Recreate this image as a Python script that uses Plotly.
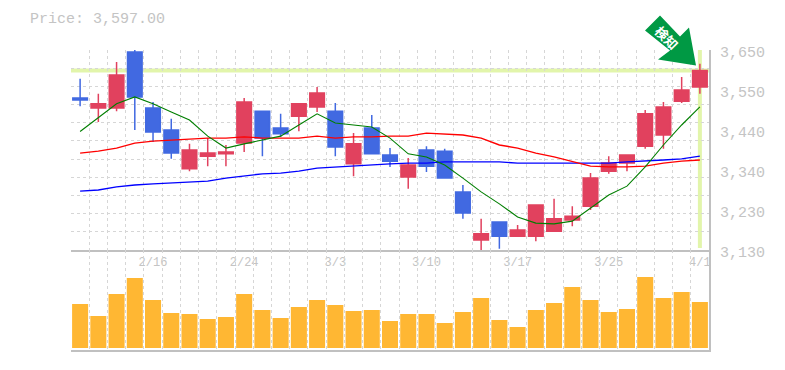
import plotly.graph_objects as go

dates = ["2/9","2/10","2/12","2/13","2/16","2/17","2/18","2/19","2/20","2/24","2/25","2/26","2/27","3/2","3/3","3/4","3/5","3/6","3/9","3/10","3/11","3/12","3/13","3/16","3/17","3/18","3/19","3/23","3/24","3/25","3/26","3/27","3/30","3/31","4/1"]
opens = [3525,3499,3499,3645,3499,3442,3341,3374,3380,3408,3491,3447,3478,3502,3491,3354,3447,3377,3320,3390,3387,3281,3156,3203,3166,3166,3179,3208,3244,3335,3356,3400,3429,3517,3554]
highs = [3575,3536,3619,3650,3515,3471,3406,3421,3403,3525,3491,3484,3510,3554,3512,3434,3481,3395,3369,3400,3393,3299,3211,3203,3195,3247,3263,3244,3330,3374,3377,3494,3515,3580,3614]
lows = [3504,3463,3491,3442,3411,3367,3335,3348,3348,3385,3374,3424,3439,3489,3374,3322,3380,3346,3289,3333,3317,3211,3130,3133,3164,3153,3179,3192,3234,3328,3335,3393,3393,3512,3536]
closes = [3520,3510,3585,3528,3437,3382,3390,3382,3385,3515,3421,3432,3510,3538,3398,3406,3380,3361,3351,3348,3317,3226,3172,3166,3182,3247,3211,3218,3317,3356,3377,3484,3502,3546,3597]
ma_short = [3438,3473,3510,3528,3510,3489,3468,3426,3395,3406,3416,3426,3455,3484,3460,3455,3450,3421,3380,3372,3351,3317,3281,3250,3216,3200,3198,3205,3239,3273,3296,3346,3403,3455,3502]
ma_mid = [3382,3387,3395,3408,3413,3416,3419,3421,3421,3424,3421,3421,3421,3426,3421,3424,3424,3426,3426,3434,3432,3429,3421,3403,3395,3382,3372,3359,3348,3346,3346,3348,3356,3361,3364]
ma_long = [3283,3286,3294,3299,3302,3304,3307,3309,3317,3322,3328,3330,3335,3343,3346,3348,3351,3354,3356,3356,3359,3359,3359,3359,3356,3356,3356,3356,3356,3356,3359,3361,3364,3367,3374]
volumes = [440,320,540,700,480,350,340,290,310,540,380,300,410,480,430,370,380,270,340,340,250,360,500,280,210,380,450,610,480,360,390,710,500,560,460]
price_ticks = [3650,3546,3442,3338,3234,3130]
price_labels = ["3,650","3,550","3,440","3,340","3,230","3,130"]
date_ticks = ["2/16","2/24","3/3","3/10","3/17","3/25","4/1"]
current_price = 3597.00
badge_text = "検知"

RED = "#E1415E"
BLUE = "#4169E1"
GOLD = "#FFB733"
HILITE = "#E2F5AB"
GRID = "#D6D6D6"
AXIS = "#C0C0C0"
TEXT = "#C4C4C4"
FONT = "Liberation Mono"

idx = list(range(len(dates)))
fig = go.Figure()
for vals, col, w in [(ma_long, "#0000FF", 1.4), (ma_mid, "#FF0000", 1.4), (ma_short, "#007F00", 1.1)]:
    fig.add_trace(go.Scatter(x=idx, y=vals, mode="lines", line=dict(color=col, width=w), xaxis="x", yaxis="y"))
fig.add_trace(go.Candlestick(
    x=idx, open=opens, high=highs, low=lows, close=closes, xaxis="x", yaxis="y", whiskerwidth=0,
    increasing=dict(line=dict(color=RED, width=1.5), fillcolor=RED),
    decreasing=dict(line=dict(color=BLUE, width=1.5), fillcolor=BLUE)))
fig.add_trace(go.Bar(x=idx, y=volumes, width=0.88, marker=dict(color=GOLD, line=dict(width=0)), xaxis="x2", yaxis="y2"))

minor = dict(showgrid=True, tick0=-0.5, dtick=1, gridcolor=GRID, griddash="3px,3px", gridwidth=1, ticklen=0)
pos = [dates.index(d) for d in date_ticks]
fig.update_layout(
    width=785, height=370, margin=dict(l=71, r=76, t=50, b=20), paper_bgcolor="white", plot_bgcolor="white",
    showlegend=False, hovermode=False, boxgap=0.2, boxgroupgap=0, dragmode=False,
    title=dict(text=f"Price: {current_price:,.2f}", x=30/785, xanchor="left", y=1-18/370, yanchor="middle",
               font=dict(family=FONT, size=15, color=TEXT)),
    font=dict(family=FONT, color=TEXT),
    xaxis=dict(domain=[0, 1], range=[-0.5, 34.5], anchor="y", tickmode="array", tickvals=pos, ticktext=date_ticks,
               showgrid=False, ticks="", tickfont=dict(family=FONT, size=12, color=TEXT),
               rangeslider=dict(visible=False), showline=True, linecolor=AXIS, linewidth=1.5, minor=minor, zeroline=False),
    xaxis2=dict(domain=[0, 1], matches="x", anchor="y2", showticklabels=False, ticks="", showgrid=False,
                showline=True, linecolor=AXIS, linewidth=2, minor=minor, zeroline=False),
    yaxis=dict(domain=[100/300, 1], range=[3130, 3650], tick0=3130, dtick=520/11, side="right", showticklabels=False,
               ticks="", gridcolor=GRID, griddash="3px,3px", gridwidth=1, zeroline=False, showline=True, linecolor=AXIS, linewidth=1.5),
    yaxis2=dict(domain=[0, 100/300], range=[-20, 980], side="right", showticklabels=False, ticks="", showgrid=False,
                zeroline=False, showline=True, linecolor=AXIS, linewidth=2),
    shapes=[
        dict(type="line", xref="x domain", yref="y", x0=0, x1=1, y0=current_price, y1=current_price,
             line=dict(color=HILITE, width=4), layer="below"),
        dict(type="line", xref="x", yref="y domain", x0=34, x1=34, y0=0.01, y1=1,
             line=dict(color=HILITE, width=4), layer="below"),
        dict(type="path", xref="paper", yref="paper", xsizemode="pixel", ysizemode="pixel", xanchor=0.9859, yanchor=0.932,
             path="M -40 55 L -55 40 L -30 20 L -42 11 L -4 5 L -11 43 L -20 34 Z",
             fillcolor="#009944", line=dict(width=0), layer="above"),
    ],
    annotations=[
        dict(text=t, xref="paper", x=1, xanchor="left", xshift=9, yref="y", y=v, yshift=-3, yanchor="middle",
             showarrow=False, font=dict(family=FONT, size=15, color=TEXT))
        for v, t in zip(price_ticks, price_labels)
    ] + [dict(text=f"<b>{badge_text}</b>", xref="x", x=34, xshift=-33, yref="y", y=current_price, yshift=33,
              showarrow=False, textangle=45, font=dict(family="Noto Sans CJK JP", size=13, color="white"))],
)
fig.write_html("out.html", config=dict(displayModeBar=False), post_script="document.body.style.margin='0';document.body.style.overflow='hidden';")
